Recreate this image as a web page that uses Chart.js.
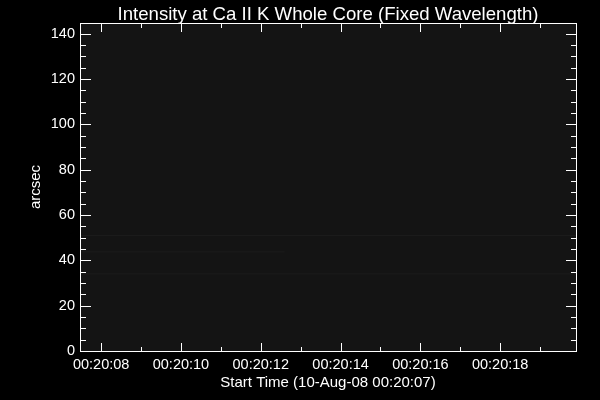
<!DOCTYPE html>
<html>
<head>
<meta charset="utf-8">
<script src="https://cdn.jsdelivr.net/npm/chart.js@4.4.1/dist/chart.umd.min.js"></script>
<style>
  html, body { margin: 0; background: #000; }
  #wrap { width: 600px; height: 400px; }
</style>
</head>
<body>
<div id="wrap"><canvas id="chart"></canvas></div>
<script>
const titleText = "Intensity at Ca II K Whole Core (Fixed Wavelength)";
const xTitle = "Start Time (10-Aug-08 00:20:07)";
const yTitle = "arcsec";

// x values are seconds after 00:20:00
const xRange = [7.47, 19.9];
const yRange = [0, 144.7];
const xMajor = [8, 10, 12, 14, 16, 18];
const xMinor = [9, 11, 13, 15, 17, 19];
const xLabels = ["00:20:08", "00:20:10", "00:20:12", "00:20:14", "00:20:16", "00:20:18"];
const yMajor = [0, 20, 40, 60, 80, 100, 120, 140];
const yMinor = [5, 10, 15, 25, 30, 35, 45, 50, 55, 65, 70, 75, 85, 90, 95,
                105, 110, 115, 125, 130, 135];

// faint bright rows in the intensity image (arcsec, start/end time)
const streakRows = [50.9, 43.7, 34.0];
const streakFrom = [7.47, 7.47, 7.47];
const streakTo = [19.9, 12.6, 19.9];

const FONT = "'Liberation Sans', Arial, sans-serif";

const datasets = streakRows.map((row, i) => ({
  data: [{ x: streakFrom[i], y: row }, { x: streakTo[i], y: row }],
  borderColor: "rgba(255,255,255,0.035)",
  borderWidth: 1,
  pointRadius: 0,
}));

// ---- plot frame, inward ticks, titles ----
const framePlugin = {
  id: "frame",
  beforeDatasetsDraw(chart) {
    const { ctx, chartArea: a } = chart;
    ctx.save();
    ctx.fillStyle = "#141414";
    ctx.fillRect(a.left, a.top, a.right - a.left, a.bottom - a.top);
    ctx.restore();
  },
  afterDraw(chart) {
    const { ctx, chartArea: a, scales } = chart;
    const L = Math.round(a.left), R = Math.round(a.right);
    const T = Math.round(a.top), B = Math.round(a.bottom);
    ctx.save();
    ctx.fillStyle = "#fff";
    // box
    ctx.fillRect(L, T, R - L + 1, 1);
    ctx.fillRect(L, B, R - L + 1, 1);
    ctx.fillRect(L, T, 1, B - T + 1);
    ctx.fillRect(R, T, 1, B - T + 1);

    const xTick = (v, len) => {
      const px = Math.round(scales.x.getPixelForValue(v));
      ctx.fillRect(px, B - len, 1, len);
      ctx.fillRect(px, T + 1, 1, len);
    };
    const yTick = (v, len) => {
      const py = Math.round(scales.y.getPixelForValue(v));
      ctx.fillRect(L + 1, py, len, 1);
      ctx.fillRect(R - len, py, len, 1);
    };
    xMajor.forEach((v) => xTick(v, 8));
    xMinor.forEach((v) => xTick(v, 4));
    yMajor.forEach((v) => yTick(v, 10));
    yMinor.forEach((v) => yTick(v, 5));

    ctx.textAlign = "center";
    ctx.textBaseline = "alphabetic";
    ctx.font = "18.6px " + FONT;
    ctx.fillText(titleText, (L + R) / 2, 20);
    ctx.font = "15px " + FONT;
    ctx.fillText(xTitle, (L + R) / 2, 387);

    ctx.translate(40, (T + B) / 2);
    ctx.rotate(-Math.PI / 2);
    ctx.fillText(yTitle, 0, 0);
    ctx.restore();
  },
};

new Chart(document.getElementById("chart"), {
  type: "line",
  data: { datasets },
  options: {
    responsive: true,
    maintainAspectRatio: false,
    animation: false,
    layout: { padding: { top: 23, right: 24, left: 0, bottom: 0 } },
    scales: {
      x: {
        type: "linear",
        min: xRange[0],
        max: xRange[1],
        grid: { display: false, drawTicks: false },
        border: { display: false },
        afterBuildTicks: (scale) => {
          scale.ticks = xMajor.map((v) => ({ value: v }));
        },
        afterFit: (scale) => { scale.height = 49; },
        ticks: {
          color: "#fff",
          font: { family: FONT, size: 14.5 },
          padding: 5,
          maxRotation: 0,
          autoSkip: false,
          callback: (v) => xLabels[xMajor.indexOf(v)],
        },
      },
      y: {
        type: "linear",
        min: yRange[0],
        max: yRange[1],
        grid: { display: false, drawTicks: false },
        border: { display: false },
        afterBuildTicks: (scale) => {
          scale.ticks = yMajor.map((v) => ({ value: v }));
        },
        afterFit: (scale) => { scale.width = 80; },
        ticks: {
          color: "#fff",
          font: { family: FONT, size: 14.5 },
          padding: 5,
          autoSkip: false,
          callback: (v) => String(v),
        },
      },
    },
    plugins: {
      legend: { display: false },
      tooltip: { enabled: false },
      title: { display: false },
    },
  },
  plugins: [framePlugin],
});
</script>
</body>
</html>
